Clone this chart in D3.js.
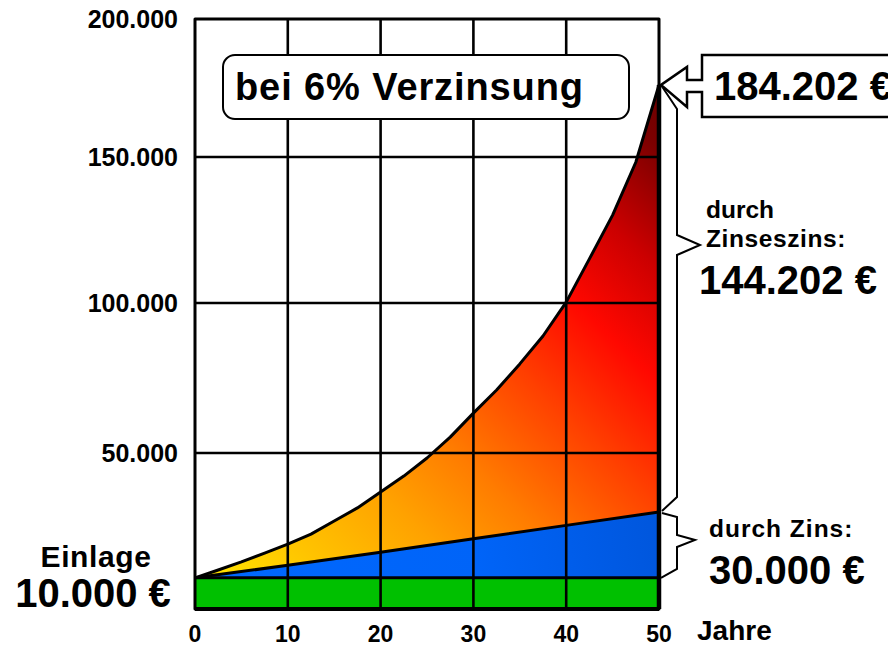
<!DOCTYPE html>
<html><head><meta charset="utf-8">
<script src="https://cdn.jsdelivr.net/npm/d3@7"></script>
<style>
body{margin:0;background:#fff}
svg{display:block;font-family:"Liberation Sans",Arial,sans-serif;font-weight:bold}
</style>
</head><body>
<svg id="c" width="888" height="646"></svg>
<script>
// ---- data ----
const compoundYears  = [0,2.5,5,7.5,10,12.5,15,17.5,20,22.5,25,27.5,30,32.5,35,37.5,40,42.5,45,47.5,50];
const compoundValues = [10000,12500,15100,17900,20800,24000,28200,32400,37500,42600,48400,55300,63300,71000,79700,89000,100300,115100,130100,148200,176100];
const simpleYears  = [0,10,20,30,40,50];
const simpleValues = [10000,14000,18200,22500,26800,31100];
const depositYears  = [0,50];
const depositValues = [10000,10000];
const xTickValues = [0,10,20,30,40,50];
const yTickValues = [50000,100000,150000,200000];
const titleText = "bei 6% Verzinsung";
const xAxisTitle = "Jahre";
const depositLabel = ["Einlage","10.000 €"];
const finalLabel = "184.202 €";
const compoundLabel = ["durch","Zinseszins:","144.202 €"];
const simpleLabel = ["durch Zins:","30.000 €"];

// ---- scales ----
const x = d3.scaleLinear().domain([0,50]).range([195,659]);
const y = d3.scaleLinear().domain([0,50000,100000,150000,200000]).range([609,453,303,157,19]);
const fmt = d3.formatLocale({decimal:",",thousands:".",grouping:[3],currency:["",""]}).format(",d");

const svg = d3.select("#c");
const defs = svg.append("defs");

const g1 = defs.append("linearGradient").attr("id","hot")
  .attr("gradientUnits","userSpaceOnUse")
  .attr("x1",195).attr("y1",580).attr("x2",660).attr("y2",85);
[[0,"#ffe800"],[0.14,"#ffc400"],[0.28,"#ffa200"],[0.4,"#ff7c00"],[0.55,"#ff4000"],[0.68,"#ff0800"],[0.8,"#cc0000"],[0.93,"#7c0000"],[1,"#6a0000"]]
  .forEach(s=>g1.append("stop").attr("offset",s[0]).attr("stop-color",s[1]));

const g2 = defs.append("linearGradient").attr("id","blue")
  .attr("gradientUnits","userSpaceOnUse")
  .attr("x1",195).attr("y1",580).attr("x2",660).attr("y2",510);
[[0,"#0068ff"],[0.6,"#0064f8"],[1,"#0056dc"]]
  .forEach(s=>g2.append("stop").attr("offset",s[0]).attr("stop-color",s[1]));

const line = d3.line().x(d=>x(d[0])).y(d=>y(d[1]));

// green deposit band
const green = d3.area().x(d=>x(d[0])).y0(y(0)).y1(d=>y(d[1]));
svg.append("path")
  .datum(depositYears.map((t,i)=>[t,depositValues[i]]))
  .attr("d",green).attr("fill","#00c000");

// blue simple-interest area
const blueArea = d3.area().x(d=>x(d[0])).y0(d=>y(depositValues[0])).y1(d=>y(d[1]));
svg.append("path")
  .datum(simpleYears.map((t,i)=>[t,simpleValues[i]]))
  .attr("d",blueArea).attr("fill","url(#blue)");

// compound interest area: curve on top, simple-interest line below
const curvePts = compoundYears.map((t,i)=>[t,compoundValues[i]]);
const simplePts = simpleYears.map((t,i)=>[t,simpleValues[i]]);
svg.append("path")
  .attr("d",line(curvePts.concat(simplePts.slice().reverse()))+"Z")
  .attr("fill","url(#hot)");

// grid lines
const grid = svg.append("g").attr("stroke","#000").attr("stroke-width",2.6);
xTickValues.filter(t=>t>0&&t<50).forEach(t=>{
  grid.append("line").attr("x1",x(t)).attr("x2",x(t)).attr("y1",y(200000)).attr("y2",y(0));
});
yTickValues.filter(v=>v<200000).forEach(v=>{
  grid.append("line").attr("x1",x(0)).attr("x2",x(50)).attr("y1",y(v)).attr("y2",y(v));
});

// outlines of the stacked areas
const outl = svg.append("g").attr("fill","none").attr("stroke","#000").attr("stroke-width",3).attr("stroke-linejoin","round");
outl.append("path").attr("d",line(curvePts));
outl.append("path").attr("d",line(simplePts));
outl.append("path").attr("d",line(depositYears.map((t,i)=>[t,depositValues[i]])));
outl.append("rect").attr("x",x(0)).attr("y",y(200000)).attr("width",x(50)-x(0)).attr("height",y(0)-y(200000))
  .attr("stroke-width",3);
outl.append("line").attr("x1",x(50)).attr("x2",x(50)).attr("y1",y(compoundValues[compoundValues.length-1])).attr("y2",y(0)).attr("stroke-width",4.5);
outl.append("line").attr("x1",x(0)).attr("x2",x(50)).attr("y1",y(0)).attr("y2",y(0)).attr("stroke-width",4);

// y tick labels
svg.append("g").selectAll("text").data(yTickValues).join("text")
  .attr("x",178).attr("y",d=>y(d)).attr("dy","0.36em")
  .attr("text-anchor","end").attr("font-size",25).text(d=>fmt(d));

// x tick labels
svg.append("g").selectAll("text").data(xTickValues).join("text")
  .attr("x",d=>x(d)).attr("y",642)
  .attr("text-anchor","middle").attr("font-size",23).text(d=>d);
svg.append("text").attr("x",697).attr("y",640).attr("font-size",28).text(xAxisTitle);

// title box
svg.append("rect").attr("x",223).attr("y",55).attr("width",406).attr("height",64).attr("rx",12)
  .attr("fill","#fff").attr("stroke","#000").attr("stroke-width",2);
svg.append("text").attr("x",235).attr("y",100).attr("font-size",38).attr("letter-spacing",0.9).text(titleText);

// deposit label
svg.append("text").attr("x",96).attr("y",567).attr("text-anchor","middle").attr("font-size",30).attr("letter-spacing",0.6).text(depositLabel[0]);
svg.append("text").attr("x",93).attr("y",607).attr("text-anchor","middle").attr("font-size",40).text(depositLabel[1]);

// final value callout with arrow
const tipX = x(50)+2, tipY = y(compoundValues[compoundValues.length-1]);
svg.append("path")
  .attr("d",`M900,55 L702,55 L702,${tipY-5} L687,${tipY-5} L687,${tipY-18} L${tipX},${tipY} L687,${tipY+22} L687,${tipY+7} L702,${tipY+7} L702,117 L900,117`)
  .attr("fill","#fff").attr("stroke","#000").attr("stroke-width",2.5).attr("stroke-linejoin","miter");
svg.append("text").attr("x",714).attr("y",100).attr("font-size",40).text(finalLabel);

// braces
const br = svg.append("g").attr("fill","none").attr("stroke","#000").attr("stroke-width",2);
const yTop = tipY, ySimple = y(simpleValues[simpleValues.length-1]), yDep = y(depositValues[1]);
br.append("path").attr("d",`M${tipX},${yTop} L677,${yTop+24} L677,235 L700,245 L677,255 L677,${ySimple-15} L${x(50)+3},${ySimple-1}`);
br.append("path").attr("d",`M${x(50)+3},${ySimple+1} L677,${ySimple+5} L677,535 L695,540 L677,547 L677,${yDep-9} L${x(50)+2},${yDep}`);

svg.append("text").attr("x",706).attr("y",218).attr("font-size",24.5).text(compoundLabel[0]);
svg.append("text").attr("x",706).attr("y",247).attr("font-size",24.5).attr("letter-spacing",0.6).text(compoundLabel[1]);
svg.append("text").attr("x",699).attr("y",294).attr("font-size",40).text(compoundLabel[2]);
svg.append("text").attr("x",709).attr("y",537).attr("font-size",24.5).attr("letter-spacing",1).text(simpleLabel[0]);
svg.append("text").attr("x",709).attr("y",584).attr("font-size",40).text(simpleLabel[1]);
</script>
</body></html>
